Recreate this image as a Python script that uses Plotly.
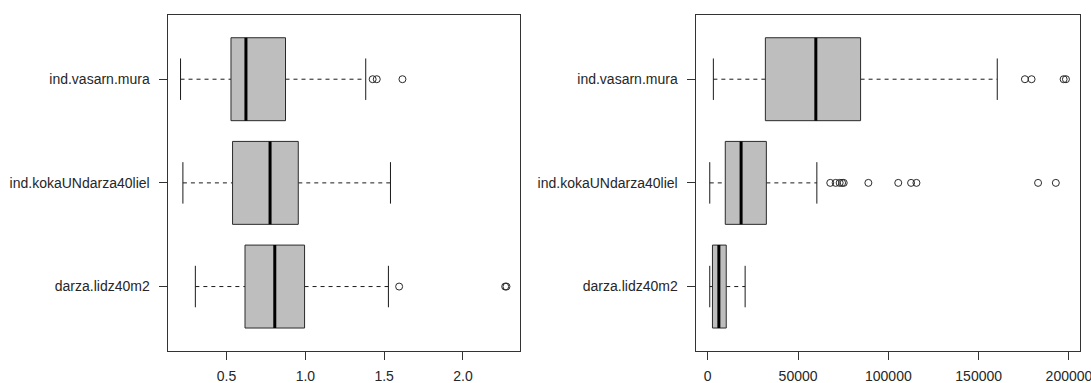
import plotly.graph_objects as go

# Groups, bottom to top on the y axis
categories = ["darza.lidz40m2", "ind.kokaUNdarza40liel", "ind.vasarn.mura"]

# Left panel: five-number summaries and outliers per group
ratio_lower = [0.302, 0.223, 0.208]
ratio_q1 = [0.617, 0.538, 0.528]
ratio_median = [0.806, 0.776, 0.623]
ratio_q3 = [0.995, 0.955, 0.874]
ratio_upper = [1.527, 1.540, 1.383]
ratio_outliers = [[1.595, 2.268, 2.276], [], [1.427, 1.453, 1.616]]
ratio_ticks = [0.5, 1.0, 1.5, 2.0]
ratio_tick_labels = ["0.5", "1.0", "1.5", "2.0"]

# Right panel: five-number summaries and outliers per group
amount_lower = [1100, 1100, 3100]
amount_q1 = [2600, 9700, 31900]
amount_median = [6150, 18460, 59840]
amount_q3 = [10230, 32440, 84620]
amount_upper = [20690, 60400, 160290]
amount_outliers = [
    [],
    [67840, 70810, 73040, 74380, 75280, 88930, 105480, 112580, 115550, 182890, 192730],
    [175610, 179300, 197040, 198330],
]
amount_ticks = [0, 50000, 100000, 150000, 200000]
amount_tick_labels = ["0", "50000", "100000", "150000", "200000"]

BOX_WIDTH = 0.8
STAPLE_WIDTH = 0.4
FONT = dict(family="Liberation Sans, Arial, sans-serif", size=14, color="#262626")
FRAME = "#333333"


def add_boxplot(fig, xa, ya, lower, q1, med, q3, upper, outliers):
    positions = list(range(1, len(categories) + 1))
    hb, hs = BOX_WIDTH / 2, STAPLE_WIDTH / 2
    bx, by, mx, my, wx, wy, sx, sy, ox, oy = ([] for _ in range(10))
    for p, lo, a, m, b, hi, outs in zip(positions, lower, q1, med, q3, upper, outliers):
        bx += [a, b, b, a, a, None]
        by += [p - hb, p - hb, p + hb, p + hb, p - hb, None]
        mx += [m, m, None]
        my += [p - hb, p + hb, None]
        wx += [lo, a, None, b, hi, None]
        wy += [p, p, None, p, p, None]
        sx += [lo, lo, None, hi, hi, None]
        sy += [p - hs, p + hs, None, p - hs, p + hs, None]
        ox += outs
        oy += [p] * len(outs)
    common = dict(xaxis=xa, yaxis=ya, hoverinfo="skip", showlegend=False)
    fig.add_trace(go.Scatter(x=wx, y=wy, mode="lines",
                             line=dict(color="#1a1a1a", width=1, dash="4px,4px"), **common))
    fig.add_trace(go.Scatter(x=sx, y=sy, mode="lines",
                             line=dict(color="#1a1a1a", width=1), **common))
    fig.add_trace(go.Scatter(x=bx, y=by, mode="lines", fill="toself", fillcolor="#bebebe",
                             line=dict(color="#2a2a2a", width=1), **common))
    fig.add_trace(go.Scatter(x=mx, y=my, mode="lines",
                             line=dict(color="#000000", width=3), **common))
    fig.add_trace(go.Scatter(x=ox, y=oy, mode="markers",
                             marker=dict(symbol="circle-open", size=7, color="#2a2a2a",
                                         line=dict(width=1)), **common))


def padded_range(lower, upper, outliers):
    values = list(lower) + list(upper) + [v for g in outliers for v in g]
    lo, hi = min(values), max(values)
    pad = 0.04 * (hi - lo)
    return [lo - pad, hi + pad]


fig = go.Figure()
add_boxplot(fig, "x", "y", ratio_lower, ratio_q1, ratio_median, ratio_q3, ratio_upper, ratio_outliers)
add_boxplot(fig, "x2", "y2", amount_lower, amount_q1, amount_median, amount_q3, amount_upper, amount_outliers)

n = len(categories)
y_range = [0.5 - 0.04 * n, n + 0.5 + 0.04 * n]
axis_common = dict(showline=True, mirror=True, linecolor=FRAME, linewidth=1,
                   showgrid=False, zeroline=False, ticks="outside", ticklen=8,
                   tickwidth=1, tickcolor=FRAME, tickfont=FONT,
                   ticklabeloverflow="allow", automargin=False)

y_axis = dict(axis_common, range=y_range, tickvals=list(range(1, n + 1)),
              ticktext=categories, domain=[0.084, 0.961], ticklabelstandoff=6)

fig.update_layout(
    width=1091, height=383,
    margin=dict(l=0, r=0, t=0, b=0),
    paper_bgcolor="white", plot_bgcolor="white",
    xaxis=dict(axis_common, domain=[167.5 / 1091, 519.5 / 1091],
               range=padded_range(ratio_lower, ratio_upper, ratio_outliers),
               tickvals=ratio_ticks, ticktext=ratio_tick_labels, anchor="y",
               ticklabelstandoff=4),
    yaxis=dict(y_axis, anchor="x"),
    xaxis2=dict(axis_common, domain=[695.5 / 1091, 1080.2 / 1091],
                range=padded_range(amount_lower, amount_upper, amount_outliers),
                tickvals=amount_ticks, ticktext=amount_tick_labels, anchor="y2",
                ticklabelstandoff=4),
    yaxis2=dict(y_axis, anchor="x2"),
)

fig.write_html("out.html")
